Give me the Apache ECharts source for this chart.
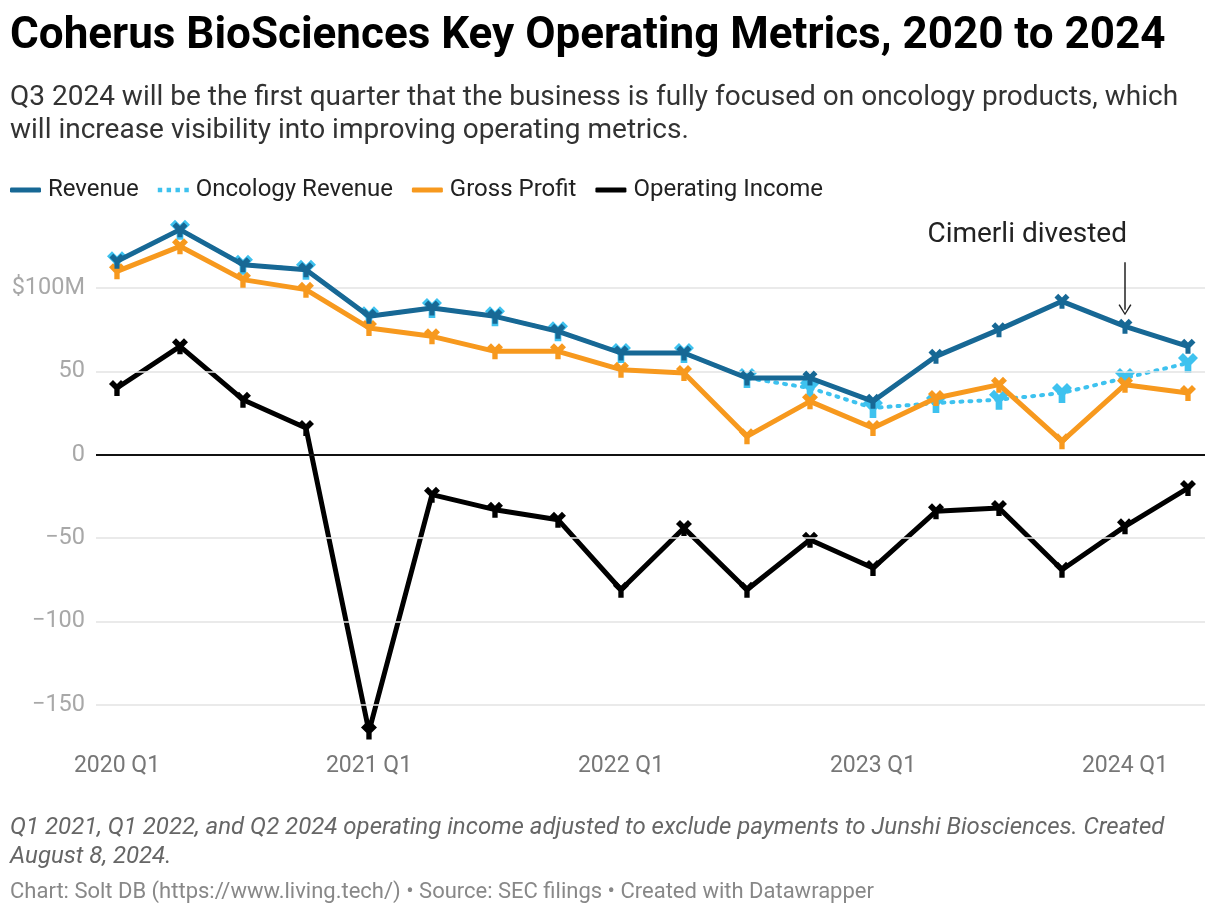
<!DOCTYPE html>
<html>
<head>
<meta charset="utf-8">
<script src="https://cdn.jsdelivr.net/npm/echarts@6/dist/echarts.min.js"></script>
<style>
html,body{margin:0;padding:0;background:#fff;}
#chart{width:1220px;height:916px;}
</style>
</head>
<body>
<div id="chart"></div>
<script>
const quarters = ['2020 Q1','2020 Q2','2020 Q3','2020 Q4','2021 Q1','2021 Q2','2021 Q3','2021 Q4','2022 Q1','2022 Q2','2022 Q3','2022 Q4','2023 Q1','2023 Q2','2023 Q3','2023 Q4','2024 Q1','2024 Q2'];
const xTickIdx = [0, 4, 8, 12, 16];
const yTicks = [-150, -100, -50, 0, 50, 100];

const revenue        = [116, 135, 114, 111, 83, 88, 83, 74, 61, 61, 46, 46, 32, 59, 75, 92, 77, 65];
const oncologyRev    = [116, 135, 114, 111, 83, 88, 83, 74, 61, 61, 46, 40, 28, 31, 33, 37, 46, 55];
const grossProfit    = [110, 125, 105, 99, 76, 71, 62, 62, 51, 49, 11, 32, 16, 34, 42, 8, 42, 37];
const operatingIncome= [40, 65, 33, 16, -166, -24, -33, -39, -81, -44, -81, -51, -68, -34, -32, -69, -43, -20];

const annotationIdx = 16;
const annotationText = 'Cimerli divested';

const C_REV = '#176895', C_ONC = '#3ec2ef', C_GP = '#f7991e', C_OI = '#000000';
const FONT = 'Roboto';
const markerPath = 'path://M0,3 L3,0 L6,3 L9,0 L12,3 L8,7 L8,12 L4,12 L4,7 Z';

function pairs(arr){ return arr.map((v,i)=>[i,v]); }
function fmtY(v){
  if (v === 100) return '$100M';
  if (v < 0) return '\u2212' + Math.abs(v);
  return String(v);
}

const chart = echarts.init(document.getElementById('chart'), null, {renderer:'canvas'});

const dots = 'path://M0,0h4v4h-4z M8,0h4v4h-4z M16,0h4v4h-4z M24,0h4v4h-4z';

chart.setOption({
  animation:false,
  textStyle:{fontFamily:FONT},
  grid:{left:96, right:15, top:221.3, height:525.1},
  xAxis:{
    type:'value', min:-0.333, max:17.27,
    splitLine:{show:false}, axisLine:{show:false}, axisTick:{show:false},
    axisLabel:{customValues:xTickIdx, formatter:v=>quarters[Math.round(v)], fontSize:23, color:'#777', margin:8, fontFamily:FONT}
  },
  yAxis:{
    type:'value', min:-175, max:140,
    splitLine:{show:false}, axisLine:{show:false}, axisTick:{show:false},
    axisLabel:{customValues:yTicks, formatter:fmtY, fontSize:23.5, color:'#a8a8a8', margin:11, fontFamily:FONT}
  },
  legend:{
    left:10, top:178, padding:0, itemWidth:31, itemHeight:5, itemGap:19,
    textStyle:{fontSize:24, color:'#222', fontFamily:FONT, padding:[0,0,0,2]},
    data:[
      {name:'Revenue', icon:'roundRect', itemStyle:{color:C_REV}},
      {name:'Oncology Revenue', icon:dots, itemStyle:{color:C_ONC}},
      {name:'Gross Profit', icon:'roundRect', itemStyle:{color:C_GP}},
      {name:'Operating Income', icon:'roundRect', itemStyle:{color:C_OI}}
    ]
  },
  graphic:[
    {type:'text', x:10, y:37, style:{text:'Coherus BioSciences Key Operating Metrics, 2020 to 2024', font:'bold 44px Roboto', fill:'#000', verticalAlign:'middle'}},
    {type:'text', x:10, y:98, style:{text:'Q3 2024 will be the first quarter that the business is fully focused on oncology products, which', font:'28px Roboto', fill:'#333', verticalAlign:'middle'}},
    {type:'text', x:10, y:131, style:{text:'will increase visibility into improving operating metrics.', font:'28px Roboto', fill:'#333', verticalAlign:'middle'}},
    {type:'text', x:10, y:828, style:{text:'Q1 2021, Q1 2022, and Q2 2024 operating income adjusted to exclude payments to Junshi Biosciences. Created', font:'italic 24px Roboto', fill:'#666', verticalAlign:'middle'}},
    {type:'text', x:10, y:857, style:{text:'August 8, 2024.', font:'italic 24px Roboto', fill:'#666', verticalAlign:'middle'}},
    {type:'text', x:10, y:892, style:{text:'Chart: Solt DB (https://www.living.tech/) \u2022 Source: SEC filings \u2022 Created with Datawrapper', font:'22px Roboto', fill:'#888', verticalAlign:'middle'}},
    {type:'text', x:1127, y:235, style:{text:annotationText, font:'28px Roboto', fill:'#222', align:'right', verticalAlign:'middle'}}
  ],
  series:[
    {
      name:'gridlines', type:'line', data:[], z:1, silent:true,
      markLine:{
        silent:true, symbol:['none','none'], label:{show:false}, animation:false,
        data: yTicks.map(v=>({yAxis:v, lineStyle:{color: v===0 ? '#111' : '#e3e3e3', width: v===0 ? 2 : 1.5, type:'solid'}}))
      }
    },
    {
      name:'Operating Income', type:'line', data:pairs(operatingIncome), z:3,
      lineStyle:{color:C_OI, width:5}, itemStyle:{color:C_OI},
      symbol:markerPath, symbolSize:16, showSymbol:true
    },
    {
      name:'Oncology Revenue', type:'line', data:pairs(oncologyRev), z:4,
      lineStyle:{color:C_ONC, width:4, type:[2,7], cap:'round'}, itemStyle:{color:C_ONC},
      symbol:markerPath, symbolSize:20
    },
    {
      name:'Gross Profit', type:'line', data:pairs(grossProfit), z:5,
      lineStyle:{color:C_GP, width:5}, itemStyle:{color:C_GP},
      symbol:markerPath, symbolSize:16
    },
    {
      name:'Revenue', type:'line', data:pairs(revenue), z:6,
      lineStyle:{color:C_REV, width:5}, itemStyle:{color:C_REV},
      symbol:markerPath, symbolSize:15,
      markLine:{
        silent:true, symbol:['none','path://M0,10 L5,0 L10,10 L9,10.8 L5,2.2 L1,10.8 Z'], symbolSize:[13,11],
        label:{show:false}, lineStyle:{color:'#222', width:1.5, type:'solid'},
        data:[[{coord:[annotationIdx, 115.5]}, {coord:[annotationIdx, 87]}]]
      }
    }
  ]
});
</script>
</body>
</html>
